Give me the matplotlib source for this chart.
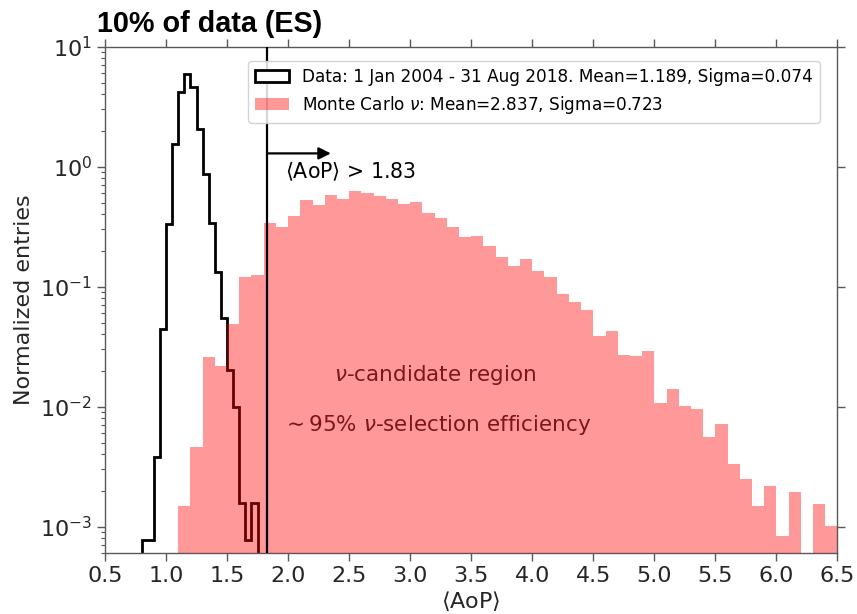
import numpy as np
import matplotlib
matplotlib.use("Agg")
import matplotlib.pyplot as plt
from matplotlib.patches import Patch

# ---- data ----
data_edges = [0.80, 0.85, 0.90, 0.95, 1.00, 1.05, 1.10, 1.15, 1.20, 1.25, 1.30,
              1.35, 1.40, 1.45, 1.50, 1.55, 1.60, 1.65, 1.70, 1.75]
data_vals = [7.8e-4, 7.8e-4, 3.83e-3, 0.0441, 0.331, 1.54, 4.17, 5.92, 4.59, 2.06,
             0.864, 0.337, 0.132, 0.0552, 0.0202, 0.0100, 1.57e-3, 7.8e-4, 1.57e-3]

mc_edges = [1.1, 1.2, 1.3, 1.4, 1.5, 1.6, 1.7, 1.8, 1.9, 2.0, 2.1, 2.2, 2.3, 2.4,
            2.5, 2.6, 2.7, 2.8, 2.9, 3.0, 3.1, 3.2, 3.3, 3.4, 3.5, 3.6, 3.7, 3.8,
            3.9, 4.0, 4.1, 4.2, 4.3, 4.4, 4.5, 4.6, 4.7, 4.8, 4.9, 5.0, 5.1, 5.2,
            5.3, 5.4, 5.5, 5.6, 5.7, 5.8, 5.9, 6.0, 6.1, 6.2, 6.3, 6.4, 6.5]
mc_vals = [1.49e-3, 4.59e-3, 0.0257, 0.0218, 0.0486, 0.120, 0.125,
           0.341, 0.316, 0.391, 0.528, 0.480, 0.581, 0.538, 0.631, 0.600,
           0.570, 0.535, 0.489, 0.508, 0.414, 0.376, 0.316, 0.258, 0.265,
           0.220, 0.176, 0.150, 0.169, 0.136, 0.121, 0.0863, 0.0750, 0.0640,
           0.0388, 0.0428, 0.0270, 0.0264, 0.0291, 0.0107, 0.0140, 0.0101,
           0.0095, 5.62e-3, 7.18e-3, 3.31e-3, 2.48e-3, 1.49e-3, 2.18e-3,
           8.36e-4, 1.93e-3, 0.0, 1.55e-3, 1.01e-3]

cut_value = 1.83
data_label = "Data: 1 Jan 2004 - 31 Aug 2018. Mean=1.189, Sigma=0.074"
mc_label = r"Monte Carlo $\nu$: Mean=2.837, Sigma=0.723"
xticks = [0.5, 1.0, 1.5, 2.0, 2.5, 3.0, 3.5, 4.0, 4.5, 5.0, 5.5, 6.0, 6.5]

# ---- figure ----
fig = plt.figure(figsize=(8.57, 6.14), dpi=100)
ax = fig.add_axes([0.1225, 0.0989, 0.8547, 0.8251])
ax.set_yscale("log")

floor = 1e-6
dv = np.where(np.array(data_vals) > 0, data_vals, floor)
mv = np.where(np.array(mc_vals) > 0, mc_vals, floor)

ax.stairs(dv, data_edges, baseline=floor, fill=False, color="black",
          linewidth=2.0, zorder=2)
ax.stairs(mv, mc_edges, baseline=floor, fill=True, color="red", alpha=0.4,
          linewidth=0, zorder=3)

ax.axvline(cut_value, color="black", linewidth=1.6, zorder=4)
ax.annotate("", xy=(2.35, 1.29), xytext=(cut_value, 1.29),
            arrowprops=dict(arrowstyle="-|>", color="black", lw=1.6,
                            mutation_scale=18, shrinkA=0, shrinkB=0), zorder=5)
ax.text(1.975, 0.91, r"$\langle$AoP$\rangle$ > 1.83", fontsize=14.8,
        ha="left", va="center", color="black", zorder=6)

ax.text(3.2, 0.0184, r"$\nu$-candidate region", fontsize=15.5,
        ha="center", va="center", color="#801515", zorder=6)
ax.text(3.22, 7.0e-3, r"$\sim$95% $\nu$-selection efficiency", fontsize=15.5,
        ha="center", va="center", color="#801515", zorder=6)

ax.set_xlim(0.5, 6.5)
ax.set_ylim(6.0e-4, 10)
ax.set_xticks(xticks)
ax.set_xticklabels([f"{t:.1f}" for t in xticks])

spine_c = "0.35"
for s in ax.spines.values():
    s.set_color(spine_c)
    s.set_linewidth(1.0)
ax.tick_params(which="major", direction="out", length=6, width=1.0,
               colors=spine_c, labelcolor="0.15", labelsize=16,
               top=True, right=True, labeltop=False, labelright=False)
ax.tick_params(which="minor", direction="out", length=3, width=0.8,
               colors=spine_c, top=False, right=False)
ax.tick_params(axis="x", which="minor", bottom=False)

ax.set_xlabel(r"$\langle$AoP$\rangle$", fontsize=16, color="0.15", labelpad=2)
ax.set_ylabel("Normalized entries", fontsize=16, color="0.15", labelpad=4)

handles = [Patch(facecolor="white", edgecolor="black", linewidth=2.0),
           Patch(facecolor="red", alpha=0.4, linewidth=0)]
leg = ax.legend(handles, [data_label, mc_label], loc="upper right",
                bbox_to_anchor=(0.976, 0.972), borderaxespad=0, fontsize=12.2,
                frameon=True, fancybox=True, framealpha=0.85, edgecolor="0.8")
leg.set_zorder(10)

fig.text(97 / 857, 1 - 31.7 / 614, "10% of data (ES)", fontsize=20.7,
         fontweight="bold", family="Liberation Sans", ha="left",
         va="baseline", color="black")

fig.savefig("out.png", dpi=100)
